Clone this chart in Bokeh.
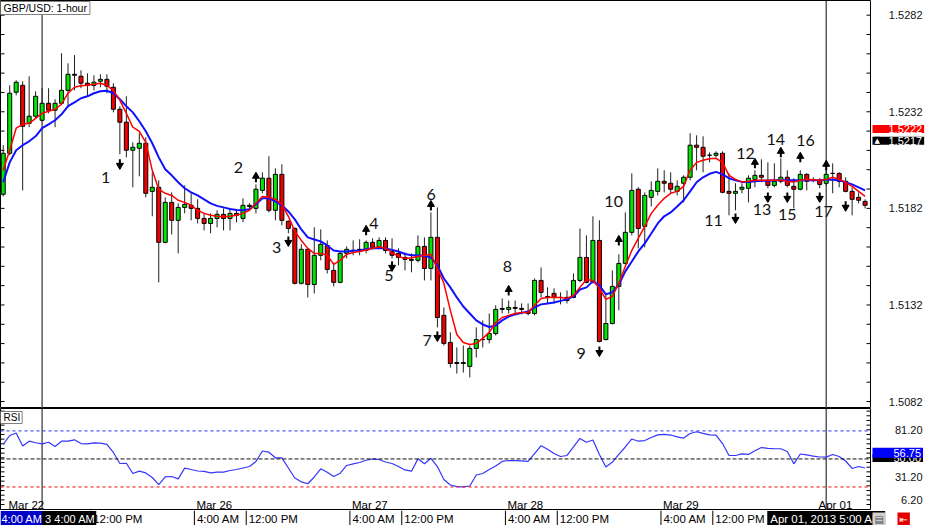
from bokeh.plotting import figure
from bokeh.layouts import column, row
from bokeh.models import ColumnDataSource, Span, Label, Range1d
from bokeh.core.properties import value
from bokeh.embed import file_html
from bokeh.resources import INLINE

# ---------------- data ----------------
opens = [1.51893, 1.52105, 1.52421, 1.52457, 1.52260, 1.52297, 1.52276, 1.52364, 1.52328, 1.52364,
         1.52431, 1.52514, 1.52504, 1.52468, 1.52457, 1.52478, 1.52488, 1.52447, 1.52333, 1.52266,
         1.52121, 1.52131, 1.52157, 1.51908, 1.51929, 1.51644, 1.51851, 1.51758, 1.51825, 1.51836,
         1.51820, 1.51768, 1.51742, 1.51768, 1.51789, 1.51768, 1.51794, 1.51768, 1.51830, 1.51820,
         1.51913, 1.51976, 1.51810, 1.51996, 1.51753, 1.51716, 1.51432, 1.51608, 1.51426, 1.51577,
         1.51628, 1.51499, 1.51437, 1.51587, 1.51602, 1.51608, 1.51602, 1.51644, 1.51618, 1.51654,
         1.51597, 1.51587, 1.51566, 1.51556, 1.51551, 1.51623, 1.51509, 1.51670, 1.51266, 1.51126,
         1.51022, 1.51017, 1.51002, 1.51095, 1.51141, 1.51141, 1.51172, 1.51297, 1.51297, 1.51307,
         1.51302, 1.51286, 1.51276, 1.51447, 1.51364, 1.51380, 1.51359, 1.51343, 1.51359, 1.51447,
         1.51566, 1.51437, 1.51654, 1.51141, 1.51224, 1.51416, 1.51535, 1.51696, 1.51919, 1.51727,
         1.51877, 1.51908, 1.51960, 1.51950, 1.51908, 1.51950, 1.51981, 1.52147, 1.52136, 1.52095,
         1.52095, 1.52105, 1.51908, 1.51898, 1.51919, 1.51924, 1.51970, 1.51991, 1.51965, 1.51939,
         1.51960, 1.51981, 1.51934, 1.51919, 1.51996, 1.51965, 1.51965, 1.51950, 1.52001, 1.52001,
         1.51960, 1.51908, 1.51877, 1.51856]
highs = [1.52147, 1.52457, 1.52483, 1.52478, 1.52504, 1.52426, 1.52442, 1.52442, 1.52385, 1.52623,
         1.52571, 1.52613, 1.52535, 1.52519, 1.52509, 1.52514, 1.52514, 1.52468, 1.52349, 1.52400,
         1.52162, 1.52209, 1.52188, 1.52007, 1.51965, 1.51877, 1.51903, 1.51846, 1.51939, 1.51898,
         1.51867, 1.51794, 1.51794, 1.51810, 1.51820, 1.51820, 1.51815, 1.51872, 1.51846, 1.51944,
         1.52007, 1.52090, 1.52027, 1.52048, 1.51758, 1.51722, 1.51634, 1.51613, 1.51722, 1.51711,
         1.51654, 1.51540, 1.51592, 1.51623, 1.51654, 1.51660, 1.51654, 1.51665, 1.51670, 1.51670,
         1.51665, 1.51613, 1.51592, 1.51587, 1.51680, 1.51670, 1.51799, 1.51825, 1.51307, 1.51178,
         1.51100, 1.51110, 1.51110, 1.51204, 1.51240, 1.51276, 1.51318, 1.51354, 1.51343, 1.51343,
         1.51328, 1.51328, 1.51457, 1.51514, 1.51411, 1.51406, 1.51385, 1.51395, 1.51483, 1.51716,
         1.51680, 1.51779, 1.51758, 1.51380, 1.51499, 1.51582, 1.51799, 1.52001, 1.51929, 1.51903,
         1.51960, 1.52027, 1.52017, 1.52007, 1.51965, 1.51991, 1.52209, 1.52198, 1.52193, 1.52110,
         1.52115, 1.52115, 1.52001, 1.51950, 1.51950, 1.51991, 1.52017, 1.52074, 1.52058, 1.52053,
         1.52079, 1.52017, 1.51976, 1.52017, 1.52001, 1.51981, 1.51976, 1.52017, 1.52053, 1.52007,
         1.51981, 1.51929, 1.51903, 1.51867]
lows = [1.51882, 1.52095, 1.52405, 1.51913, 1.52240, 1.52286, 1.52271, 1.52312, 1.52240, 1.52354,
        1.52343, 1.52431, 1.52442, 1.52400, 1.52431, 1.52447, 1.52416, 1.52317, 1.52100, 1.52084,
        1.51929, 1.51986, 1.51877, 1.51779, 1.51437, 1.51639, 1.51685, 1.51587, 1.51794, 1.51758,
        1.51742, 1.51706, 1.51691, 1.51722, 1.51706, 1.51706, 1.51748, 1.51748, 1.51815, 1.51794,
        1.51898, 1.51799, 1.51758, 1.51732, 1.51691, 1.51426, 1.51426, 1.51359, 1.51380, 1.51551,
        1.51483, 1.51416, 1.51432, 1.51561, 1.51577, 1.51577, 1.51587, 1.51608, 1.51613, 1.51587,
        1.51561, 1.51525, 1.51499, 1.51489, 1.51540, 1.51447, 1.51447, 1.51204, 1.51110, 1.50996,
        1.50965, 1.50970, 1.50945, 1.51048, 1.51100, 1.51121, 1.51162, 1.51276, 1.51276, 1.51276,
        1.51271, 1.51266, 1.51266, 1.51359, 1.51328, 1.51328, 1.51323, 1.51328, 1.51354, 1.51437,
        1.51432, 1.51432, 1.51126, 1.51136, 1.51219, 1.51292, 1.51530, 1.51680, 1.51613, 1.51618,
        1.51830, 1.51887, 1.51903, 1.51898, 1.51887, 1.51851, 1.51965, 1.52017, 1.52007, 1.52058,
        1.52084, 1.51898, 1.51784, 1.51810, 1.51898, 1.51851, 1.51929, 1.51955, 1.51924, 1.51929,
        1.51950, 1.51929, 1.51820, 1.51913, 1.51913, 1.51955, 1.51924, 1.51939, 1.51898, 1.51929,
        1.51903, 1.51784, 1.51846, 1.51820]
closes = [1.52105, 1.52416, 1.52473, 1.52245, 1.52297, 1.52400, 1.52364, 1.52328, 1.52364, 1.52431,
          1.52514, 1.52509, 1.52468, 1.52457, 1.52473, 1.52488, 1.52452, 1.52333, 1.52266, 1.52121,
          1.52136, 1.52157, 1.51898, 1.51929, 1.51644, 1.51851, 1.51758, 1.51825, 1.51841, 1.51820,
          1.51768, 1.51742, 1.51768, 1.51789, 1.51768, 1.51794, 1.51784, 1.51836, 1.51836, 1.51919,
          1.51976, 1.51810, 1.51996, 1.51758, 1.51716, 1.51432, 1.51608, 1.51426, 1.51577, 1.51634,
          1.51504, 1.51437, 1.51587, 1.51608, 1.51603, 1.51597, 1.51644, 1.51618, 1.51654, 1.51602,
          1.51577, 1.51566, 1.51556, 1.51551, 1.51623, 1.51509, 1.51670, 1.51255, 1.51121, 1.51017,
          1.51017, 1.51022, 1.51095, 1.51141, 1.51141, 1.51172, 1.51297, 1.51302, 1.51307, 1.51302,
          1.51297, 1.51276, 1.51447, 1.51385, 1.51359, 1.51359, 1.51359, 1.51359, 1.51447, 1.51566,
          1.51437, 1.51654, 1.51131, 1.51224, 1.51416, 1.51535, 1.51696, 1.51913, 1.51716, 1.51887,
          1.51913, 1.51960, 1.51950, 1.51919, 1.51934, 1.51981, 1.52147, 1.52136, 1.52090, 1.52095,
          1.52105, 1.51903, 1.51898, 1.51908, 1.51929, 1.51976, 1.51991, 1.51981, 1.51939, 1.51960,
          1.51981, 1.51939, 1.51919, 1.51996, 1.51960, 1.51965, 1.51944, 1.51996, 1.52001, 1.51960,
          1.51908, 1.51867, 1.51862, 1.51836]
ma_fast = [1.52017, 1.52121, 1.52235, 1.52255, 1.52260, 1.52286, 1.52312, 1.52323, 1.52333, 1.52359,
           1.52416, 1.52447, 1.52455, 1.52457, 1.52462, 1.52468, 1.52457, 1.52431, 1.52380, 1.52312,
           1.52240, 1.52219, 1.52162, 1.52017, 1.51919, 1.51898, 1.51887, 1.51862, 1.51851, 1.51836,
           1.51810, 1.51794, 1.51784, 1.51779, 1.51776, 1.51779, 1.51784, 1.51794, 1.51810, 1.51846,
           1.51882, 1.51877, 1.51867, 1.51841, 1.51779, 1.51701, 1.51654, 1.51613, 1.51587, 1.51587,
           1.51577, 1.51530, 1.51551, 1.51582, 1.51592, 1.51597, 1.51605, 1.51613, 1.51621, 1.51613,
           1.51592, 1.51571, 1.51561, 1.51564, 1.51571, 1.51577, 1.51582, 1.51509, 1.51432, 1.51292,
           1.51167, 1.51126, 1.51115, 1.51121, 1.51147, 1.51178, 1.51229, 1.51255, 1.51266, 1.51276,
           1.51281, 1.51281, 1.51318, 1.51354, 1.51359, 1.51359, 1.51359, 1.51354, 1.51369, 1.51411,
           1.51452, 1.51447, 1.51406, 1.51349, 1.51364, 1.51432, 1.51520, 1.51602, 1.51665, 1.51727,
           1.51794, 1.51836, 1.51872, 1.51898, 1.51908, 1.51934, 1.52017, 1.52058, 1.52069, 1.52077,
           1.52079, 1.52058, 1.51991, 1.51970, 1.51957, 1.51960, 1.51965, 1.51965, 1.51965, 1.51965,
           1.51965, 1.51960, 1.51957, 1.51965, 1.51970, 1.51968, 1.51965, 1.51970, 1.51981, 1.51970,
           1.51955, 1.51934, 1.51908, 1.51882]
ma_slow = [1.51955, 1.52058, 1.52121, 1.52147, 1.52167, 1.52193, 1.52235, 1.52255, 1.52276, 1.52307,
           1.52349, 1.52369, 1.52390, 1.52400, 1.52416, 1.52426, 1.52429, 1.52416, 1.52385, 1.52349,
           1.52317, 1.52271, 1.52219, 1.52157, 1.52084, 1.52022, 1.51991, 1.51955, 1.51924, 1.51903,
           1.51887, 1.51867, 1.51846, 1.51833, 1.51825, 1.51817, 1.51812, 1.51810, 1.51815, 1.51841,
           1.51872, 1.51872, 1.51856, 1.51836, 1.51804, 1.51763, 1.51711, 1.51670, 1.51659, 1.51649,
           1.51628, 1.51602, 1.51597, 1.51597, 1.51600, 1.51602, 1.51608, 1.51613, 1.51615, 1.51613,
           1.51605, 1.51597, 1.51584, 1.51577, 1.51577, 1.51574, 1.51566, 1.51525, 1.51457, 1.51411,
           1.51359, 1.51312, 1.51276, 1.51240, 1.51219, 1.51206, 1.51214, 1.51240, 1.51260, 1.51271,
           1.51279, 1.51286, 1.51307, 1.51323, 1.51328, 1.51333, 1.51341, 1.51349, 1.51364, 1.51400,
           1.51411, 1.51442, 1.51421, 1.51375, 1.51385, 1.51426, 1.51494, 1.51545, 1.51597, 1.51639,
           1.51690, 1.51742, 1.51779, 1.51799, 1.51830, 1.51862, 1.51908, 1.51955, 1.51981, 1.51999,
           1.52009, 1.51996, 1.51976, 1.51965, 1.51957, 1.51957, 1.51960, 1.51963, 1.51963, 1.51965,
           1.51965, 1.51965, 1.51965, 1.51965, 1.51965, 1.51965, 1.51965, 1.51968, 1.51968, 1.51965,
           1.51955, 1.51944, 1.51929, 1.51913]
rsi = [65.5, 75.1, 77.8, 63.9, 69.0, 67.3, 66.2, 67.9, 63.3, 69.0,
       69.0, 70.5, 66.5, 66.2, 67.1, 66.9, 65.5, 56.9, 45.1, 45.4,
       34.4, 36.9, 35.0, 30.1, 22.6, 30.7, 31.2, 28.7, 40.1, 38.7,
       37.1, 36.6, 35.0, 35.8, 35.8, 37.6, 38.7, 40.3, 41.9, 47.3,
       58.5, 57.2, 51.2, 51.2, 40.3, 29.6, 25.5, 23.4, 30.7, 39.4,
       35.8, 31.2, 34.7, 43.0, 44.8, 46.2, 48.6, 49.9, 49.4, 46.7,
       45.1, 41.9, 38.2, 36.9, 50.1, 44.8, 50.7, 41.9, 28.0, 22.1,
       20.3, 20.0, 21.0, 32.8, 34.4, 38.7, 42.4, 47.3, 48.3, 48.3,
       48.0, 47.3, 55.8, 64.2, 60.4, 55.8, 52.6, 53.7, 62.8, 71.9,
       67.9, 70.3, 54.8, 41.4, 46.7, 54.8, 62.8, 71.4, 69.0, 69.7,
       73.0, 75.8, 76.2, 75.6, 73.7, 72.3, 77.2, 79.1, 77.3, 75.8,
       75.6, 66.5, 53.7, 53.7, 55.5, 54.8, 58.7, 62.2, 61.4, 60.9,
       60.9, 58.0, 44.8, 55.3, 54.3, 53.1, 52.1, 51.9, 54.8, 52.6,
       47.8, 39.8, 41.9, 40.3]

# fractal arrows and wave numbers
up_bars = [39, 56, 66, 78, 95, 116, 120, 123, 127]
up_prices = [1.51976, 1.51701, 1.51830, 1.51390, 1.51649, 1.52048, 1.52105, 1.52079, 1.52038]
down_bars = [18, 44, 60, 67, 92, 113, 118, 121, 126, 130]
down_prices = [1.52053, 1.51654, 1.51525, 1.51162, 1.51084, 1.51773, 1.51882, 1.51882, 1.51882, 1.51836]
num_texts = ["1", "2", "3", "4", "5", "6", "7", "8", "9", "10", "11", "12", "13", "14", "15", "16", "17"]
num_bars = [15.8, 36.3, 42.2, 57.2, 59.5, 66.05, 65.4, 77.8, 89.2, 94.2, 109.6, 114.55, 117.1, 119.2, 121.0, 123.8, 126.6]
num_prices = [1.51979, 1.52031, 1.51620, 1.51744, 1.51473, 1.51893, 1.51136, 1.51520, 1.51070, 1.51853,
              1.51758, 1.52105, 1.51815, 1.52178, 1.51789, 1.52169, 1.51805]

price_ticks = [1.5082, 1.5132, 1.5182, 1.5232, 1.5282]
rsi_ticks = [6.2, 31.2, 81.2]
rsi_levels = [80, 50, 20]
ask_price, bid_price = 1.5222, 1.5217
rsi_now = 56.75
separator_bars = [6, 127]
time_bars = [14, 30, 38, 54, 62, 78, 86, 102, 110]
time_labels = ["12:00 PM", "4:00 AM", "12:00 PM", "4:00 AM", "12:00 PM",
               "4:00 AM", "12:00 PM", "4:00 AM", "12:00 PM"]
day_bars = [1, 30, 54, 78, 102, 126]
day_labels = ["Mar 22", "Mar 26", "Mar 27", "Mar 28", "Mar 29", "Apr 01"]
cursor_texts = ["4:00 AM", "3 4:00 AM", "Apr 01, 2013 5:00 AM"]

# ---------------- layout constants ----------------
X0, X1 = -0.42, 133.99
P0, P1 = 1.50784, 1.52896
R0, R1 = -5.2, 104.0
PX = (P1 - P0) / 408.0          # price per pixel
SCALE = 871.0 / (X1 - X0)       # pixels per bar
FONT = "Liberation Sans"
minor_price = [round(1.5072 + 0.001 * k, 4) for k in range(23)]
rsi_minor = [round(1.2 + 5 * k, 1) for k in range(21)]


def base_fig(w, h, xr, yr, outline="black"):
    return figure(width=w, height=h, x_range=xr, y_range=yr, output_backend="svg",
                  toolbar_location=None, x_axis_type=None, y_axis_type=None,
                  min_border_left=0, min_border_right=0, min_border_top=0, min_border_bottom=0,
                  outline_line_color=outline, background_fill_color="white",
                  border_fill_color="white")


def box_label(fig, x, y, text, bg, fg="white", size="11px", align="left", baseline="middle",
              x_offset=0, y_offset=0, pad=(1, 1, 0, 0), font=FONT, border=None):
    fig.add_layout(Label(x=x, y=y, text=text, text_font=font, text_font_size=size,
                         text_align=align, text_baseline=baseline, x_offset=x_offset,
                         y_offset=y_offset, text_color=fg, background_fill_color=bg,
                         border_line_color=border,
                         padding=dict(left=pad[0], right=pad[1], top=pad[2], bottom=pad[3])))


n = len(opens)
bars = list(range(n))
src = ColumnDataSource(dict(
    x=bars, h=highs, l=lows,
    top=[max(a, b) for a, b in zip(opens, closes)],
    bottom=[min(a, b) for a, b in zip(opens, closes)],
    color=["#00e600" if c >= o else "#f00000" for o, c in zip(opens, closes)]))

xr = Range1d(X0, X1)
pr = Range1d(P0, P1)
rr = Range1d(R0, R1)

# ---------------- price panel ----------------
p1 = base_fig(871, 408, xr, pr)
p1.scatter([X0] * len(minor_price), minor_price, marker="dash", size=8, line_color="black")
p1.scatter([X1] * len(minor_price), minor_price, marker="dash", size=10, line_color="black")
for b in separator_bars:
    p1.add_layout(Span(location=b, dimension="height", line_color="#404040",
                       line_width=1.3, level="underlay"))
p1.segment(x0="x", y0="l", x1="x", y1="h", source=src, line_color="#202020", line_width=1)
p1.vbar(x="x", width=0.62, top="top", bottom="bottom", source=src,
        fill_color="color", line_color="black", line_width=1)
p1.line(bars, ma_slow, line_color="#1010ff", line_width=2)
p1.line(bars, ma_fast, line_color="#ff0000", line_width=1.5)

p1.segment(x0=up_bars, y0=[v - 4 * PX for v in up_prices], x1=up_bars,
           y1=[v + 1 * PX for v in up_prices], line_color="black", line_width=2)
p1.scatter(up_bars, [v + 2 * PX for v in up_prices], marker="triangle", size=7,
           fill_color="black", line_color="black")
p1.segment(x0=down_bars, y0=[v + 4 * PX for v in down_prices], x1=down_bars,
           y1=[v - 1 * PX for v in down_prices], line_color="black", line_width=2)
p1.scatter(down_bars, [v - 2 * PX for v in down_prices], marker="inverted_triangle", size=7,
           fill_color="black", line_color="black")
p1.text(num_bars, num_prices, text=num_texts, text_font=value("Lato"),
        text_font_size="16px", text_align="center", text_baseline="middle", text_color="#111111")

box_label(p1, X0, P1, "GBP/USD: 1-hour", "white", fg="black", size="10.5px",
          baseline="top", x_offset=0, y_offset=-1, pad=(3, 3, 0, 1), border="#808080")

# price scale strip
p1r = base_fig(54, 408, Range1d(0, 54), pr, outline=None)
p1r.text([51] * len(price_ticks), price_ticks, text=[f"{t:.4f}" for t in price_ticks],
         text_font=value(FONT), text_font_size="11px", text_align="right",
         text_baseline="middle", text_color="#111111")
box_label(p1r, 1, ask_price, f"{ask_price:.4f}", "#ff0000", y_offset=2, pad=(16, 2, 0, 0))
box_label(p1r, 1, bid_price, f"{bid_price:.4f}", "black", pad=(16, 2, 0, 0))
box_label(p1r, 3, bid_price, "▲", "black", size="7px", font="DejaVu Sans", pad=(0, 0, 0, 0))

# ---------------- RSI panel ----------------
p2 = base_fig(871, 102, xr, rr)
p2.scatter([X0] * len(rsi_minor), rsi_minor, marker="dash", size=8, line_color="black")
p2.scatter([X1] * len(rsi_minor), rsi_minor, marker="dash", size=10, line_color="black")
for b in separator_bars:
    p2.add_layout(Span(location=b, dimension="height", line_color="#404040",
                       line_width=1.3, level="underlay"))
p2.add_layout(Span(location=rsi_levels[0], dimension="width", line_color="#2a2aff",
                   line_width=1, line_dash="3 3"))
p2.add_layout(Span(location=rsi_levels[1], dimension="width", line_color="#111111",
                   line_width=1, line_dash="4 2"))
p2.add_layout(Span(location=rsi_levels[2], dimension="width", line_color="#ff0000",
                   line_width=1, line_dash="3 3"))
p2.line(bars, rsi, line_color="#3535ff", line_width=1.2)
p2.text([b - 0.5 for b in day_bars], [0.2] * len(day_bars), text=day_labels,
        text_font=value(FONT), text_font_size="11.5px", text_align="left",
        text_baseline="middle", x_offset=2, text_color="black")
box_label(p2, X0, R1, "RSI", "white", fg="black", size="10px", baseline="top",
          x_offset=0, y_offset=-3, pad=(3, 2, 0, 1), border="#808080")

p2r = base_fig(54, 102, Range1d(0, 54), rr, outline=None)
p2r.text([51] * len(rsi_ticks), rsi_ticks, text=[f"{t:.2f}" for t in rsi_ticks],
         text_font=value(FONT), text_font_size="11px", text_align="right",
         text_baseline="middle", text_color="#111111")
box_label(p2r, 1, rsi_levels[1], f"{rsi_levels[1]:.2f}", "black", pad=(21, 2, 0, 0), y_offset=1)
box_label(p2r, 1, rsi_now, f"{rsi_now:.2f}", "#0000ff", pad=(21, 2, 1, 1))

# ---------------- time scale strip ----------------
p3 = base_fig(925, 15, Range1d(X0, X0 + 925.0 / SCALE), Range1d(0, 15), outline=None)
p3.segment(x0=[b - 0.5 for b in time_bars], y0=[0] * len(time_bars),
           x1=[b - 0.5 for b in time_bars], y1=[15] * len(time_bars),
           line_color="black", line_width=1)
p3.text([b - 0.5 for b in time_bars], [6.5] * len(time_bars), text=time_labels,
        text_font=value(FONT), text_font_size="11.5px", text_align="left",
        text_baseline="middle", x_offset=2.5, text_color="black")
box_label(p3, X0, 6.5, cursor_texts[0], "#0000c8", size="11px", pad=(1, 1, 2, 2))
box_label(p3, separator_bars[0], 6.5, cursor_texts[1], "black", size="11px",
          pad=(3, 1, 2, 2))
box_label(p3, separator_bars[1], 6.5, cursor_texts[2], "black", size="11.5px", align="center",
          pad=(3, 3, 2, 2))
box_label(p3, X1 + 1.0 / SCALE, 6.5, "▤", "#d0d0d0", fg="#505050", size="10px",
          font="DejaVu Sans", pad=(2, 2, 1, 1))
box_label(p3, X1 + 26.0 / SCALE, 6.5, "⇤", "#e00000", size="10px",
          font="DejaVu Sans", pad=(2, 2, 1, 1))

layout = column(row(p1, p1r), row(p2, p2r), p3)
open("out.html", "w").write(file_html(layout, INLINE))
